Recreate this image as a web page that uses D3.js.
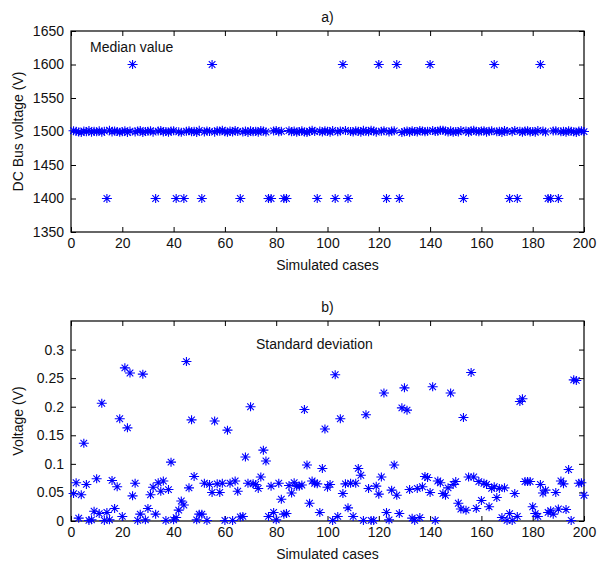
<!DOCTYPE html>
<html><head><meta charset="utf-8">
<script src="https://cdn.jsdelivr.net/npm/d3@7"></script>
<style>body{margin:0;background:#fff}svg{display:block}</style>
</head><body>
<svg id="c" width="597" height="563"></svg>
<script>
const cases = d3.range(1, 201);
const medianValues = [
1501.2,1500.4,1499.1,1498.6,1500.8,1499.5,1501.6,1498.9,1500.2,1499.7,
1501.0,1498.7,1500.5,1400,1501.8,1499.3,1500.9,1500.1,1498.8,1499.6,
1501.3,1498.5,1500.6,1600,1499.2,1500.7,1501.5,1498.4,1499.9,1500.3,
1501.1,1499.0,1400,1500.6,1501.4,1499.4,1500.0,1498.9,1500.8,1501.2,
1400,1499.5,1498.7,1400,1500.4,1501.0,1499.8,1500.2,1498.6,1501.7,
1400,1499.3,1500.9,1500.1,1600,1499.0,1501.3,1500.5,1501.9,1499.6,
1498.8,1500.7,1499.1,1501.5,1500.0,1400,1499.4,1500.8,1498.5,1501.1,
1499.7,1500.3,1498.9,1501.4,1500.6,1499.2,1400,1400,1500.9,1501.6,
1499.8,1500.2,1400,1400,1501.3,1499.5,1500.7,1498.7,1500.1,1501.0,
1499.3,1498.6,1500.4,1501.8,1499.9,1400,1500.6,1499.1,1501.2,1500.3,
1498.8,1501.5,1400,1499.7,1500.9,1600,1501.4,1400,1500.0,1499.4,
1501.1,1500.5,1498.9,1501.7,1500.2,1499.6,1501.9,1500.8,1499.0,1600,
1500.4,1501.3,1400,1499.2,1500.6,1501.0,1600,1400,1498.5,1499.8,
1500.7,1498.7,1501.2,1500.1,1499.3,1501.6,1500.9,1499.5,1500.3,1600,
1501.4,1499.9,1500.5,1501.8,1502.0,1500.6,1499.1,1501.2,1498.8,1500.0,
1499.4,1501.5,1400,1500.8,1498.9,1501.1,1501.7,1500.2,1499.6,1500.9,
1501.3,1499.0,1500.4,1501.0,1600,1499.7,1500.5,1498.6,1501.4,1500.1,
1400,1499.8,1501.6,1400,1500.3,1498.7,1500.8,1501.2,1499.4,1500.0,
1498.9,1501.5,1600,1500.6,1499.2,1400,1400,1500.9,1501.1,1400,
1499.5,1500.4,1498.8,1501.3,1500.2,1499.6,1498.5,1500.7,1501.0,1499.9];
const stdValues = [
0.048,0.067,0.005,0.046,0.136,0.064,0.001,0.002,0.017,0.074,
0.013,0.206,0.001,0.015,0.002,0.071,0.022,0.060,0.179,0.008,
0.268,0.163,0.259,0.044,0.066,0.001,0.012,0.257,0.002,0.022,
0.046,0.059,0.012,0.067,0.052,0.070,0.001,0.055,0.103,0.002,
0.006,0.019,0.035,0.028,0.279,0.058,0.177,0.078,0.002,0.012,
0.012,0.066,0.001,0.064,0.050,0.175,0.065,0.050,0.066,0.001,
0.159,0.066,0.001,0.070,0.052,0.007,0.008,0.112,0.066,0.200,
0.065,0.064,0.057,0.077,0.124,0.105,0.008,0.061,0.015,0.002,
0.066,0.038,0.012,0.013,0.062,0.049,0.067,0.061,0.061,0.063,
0.195,0.098,0.031,0.070,0.066,0.065,0.015,0.092,0.161,0.059,
0.064,0.001,0.256,0.008,0.179,0.048,0.065,0.023,0.066,0.008,
0.066,0.092,0.080,0.001,0.186,0.057,0.001,0.001,0.061,0.047,
0.077,0.224,0.015,0.002,0.054,0.098,0.045,0.013,0.198,0.233,
0.194,0.055,0.005,0.001,0.057,0.006,0.060,0.078,0.076,0.050,
0.235,0.001,0.070,0.067,0.048,0.045,0.058,0.224,0.064,0.069,
0.031,0.021,0.181,0.019,0.077,0.260,0.077,0.022,0.069,0.036,
0.066,0.064,0.025,0.057,0.060,0.041,0.057,0.006,0.058,0.001,
0.013,0.001,0.048,0.008,0.209,0.214,0.069,0.069,0.069,0.025,
0.013,0.008,0.064,0.049,0.054,0.015,0.018,0.012,0.050,0.021,
0.070,0.065,0.020,0.090,0.001,0.247,0.246,0.066,0.067,0.045];
const xTicks = [0,20,40,60,80,100,120,140,160,180,200];
const medianTicks = [1350,1400,1450,1500,1550,1600,1650];
const stdTicks = [0,0.05,0.1,0.15,0.2,0.25,0.3];
const titles = ["a)", "b)"];
const xLabel = "Simulated cases";
const yLabels = ["DC Bus voltage (V)", "Voltage (V)"];
const notes = ["Median value", "Standard deviation"];

const svg = d3.select("#c");
const FONT = "'Liberation Sans', Arial, sans-serif";
const L = 71, R = 584;
const x = d3.scaleLinear().domain([0, 200]).range([L, R]);
const star = "M-5,0H5M0,-4.5V4.5M-3.3,-3.3L3.3,3.3M-3.3,3.3L3.3,-3.3";

function panel(opt) {
  const y = d3.scaleLinear().domain(opt.domain).range([opt.bottom, opt.top]);
  const g = svg.append("g");
  const fmt = opt.fmt;
  // axes
  const ab = g.append("g").attr("transform", `translate(0,${opt.bottom})`)
    .call(d3.axisBottom(x).tickValues(xTicks).tickSizeInner(-5).tickSizeOuter(0).tickPadding(6));
  const at = g.append("g").attr("transform", `translate(0,${opt.top})`)
    .call(d3.axisTop(x).tickValues(xTicks).tickSizeInner(-5).tickSizeOuter(0).tickFormat(""));
  const al = g.append("g").attr("transform", `translate(${L},0)`)
    .call(d3.axisLeft(y).tickValues(opt.ticks).tickSizeInner(-5).tickSizeOuter(0).tickPadding(7).tickFormat(fmt));
  const ar = g.append("g").attr("transform", `translate(${R},0)`)
    .call(d3.axisRight(y).tickValues(opt.ticks).tickSizeInner(-5).tickSizeOuter(0).tickFormat(""));
  [ab, at, al, ar].forEach(a => {
    a.select(".domain").remove();
    a.selectAll("line").attr("stroke", "#000");
    a.selectAll("text").attr("font-family", FONT).attr("font-size", 14).attr("fill", "#111");
  });
  g.append("rect").attr("x", L).attr("y", opt.top).attr("width", R - L).attr("height", opt.bottom - opt.top)
    .attr("fill", "none").attr("stroke", "#000").attr("stroke-width", 1.2);
  // points
  g.append("g").selectAll("path").data(cases).join("path")
    .attr("transform", (d, i) => `translate(${x(d)},${y(opt.values[i])})`)
    .attr("d", star).attr("stroke", "#0000ff").attr("stroke-width", 1.1).attr("fill", "none");
  // labels
  g.append("text").attr("x", (L + R) / 2).attr("y", opt.top - 9).attr("text-anchor", "middle")
    .attr("font-family", FONT).attr("font-size", 14).attr("fill", "#111").text(opt.title);
  g.append("text").attr("x", (L + R) / 2).attr("y", opt.bottom + 38).attr("text-anchor", "middle")
    .attr("font-family", FONT).attr("font-size", 14).attr("fill", "#111").text(xLabel);
  g.append("text").attr("transform", `translate(${opt.ylx},${(opt.top + opt.bottom) / 2}) rotate(-90)`)
    .attr("text-anchor", "middle").attr("font-family", FONT).attr("font-size", 14).attr("fill", "#111").text(opt.ylabel);
  g.append("text").attr("x", opt.noteX).attr("y", opt.noteY).attr("font-family", FONT).attr("font-size", 14)
    .attr("fill", "#111").text(opt.note);
}

panel({domain: [1350, 1650], top: 31, bottom: 232, ticks: medianTicks, values: medianValues,
  fmt: d3.format("d"), title: titles[0], ylabel: yLabels[0], ylx: 23, note: notes[0], noteX: 90, noteY: 52});
panel({domain: [0, 0.35], top: 321, bottom: 521, ticks: stdTicks, values: stdValues,
  fmt: d => d === 0 ? "0" : String(d), title: titles[1], ylabel: yLabels[1], ylx: 23, note: notes[1], noteX: 256, noteY: 349});
</script>
</body></html>
